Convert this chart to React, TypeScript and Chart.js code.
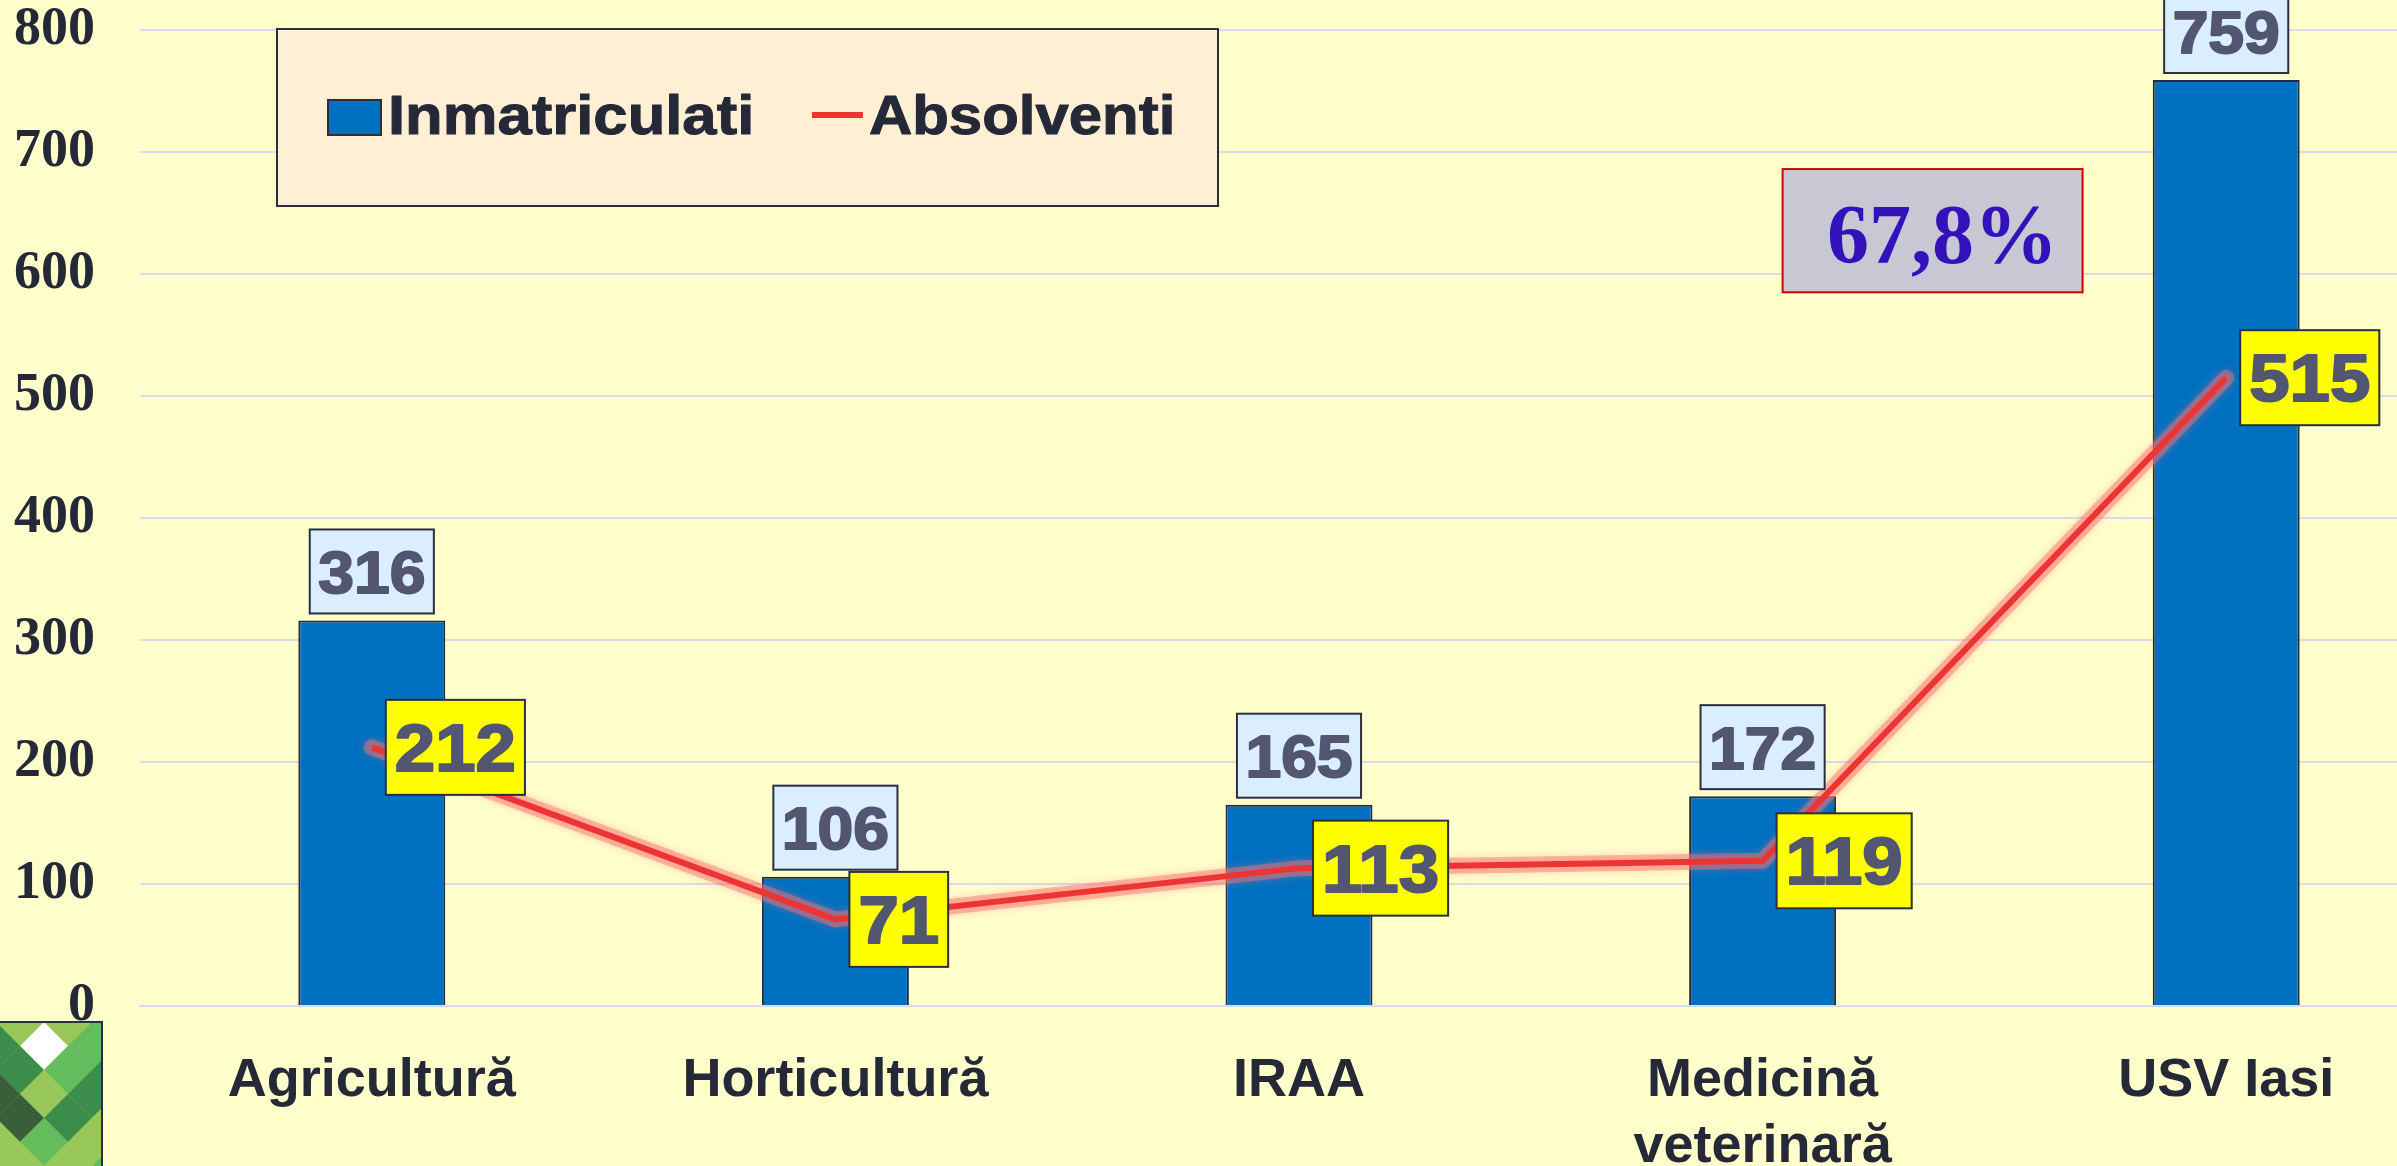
import React, { useEffect, useRef } from "react";
import { Chart, registerables } from "chart.js";

Chart.register(...registerables);

const categories: (string | string[])[] = ["Agricultură", "Horticultură", "IRAA", ["Medicină", "veterinară"], "USV Iasi"];
const inmatriculati = [316, 106, 165, 172, 759];
const absolventi = [212, 71, 113, 119, 515];
const seriesNames = ["Inmatriculati", "Absolventi"];
const yMin = 0;
const yMax = 800;
const yStep = 100;
const percentText = "67,8%";

const BAR_COLOR = "#0070C0";
const LINE_COLOR = "#EE3333";
const DARK = "#252836";
const LABEL_TEXT = "#525670";
const BORDER = "#2B2E3E";
const GRID = "#D9DBE8";

function drawStretchedText(ctx: CanvasRenderingContext2D, text: string, x: number, baseline: number, sx: number, align: "left" | "center", bold = 0) {
  ctx.save();
  ctx.translate(x, baseline);
  ctx.scale(sx, 1);
  ctx.textAlign = align;
  ctx.textBaseline = "alphabetic";
  if (bold > 0) {
    ctx.lineWidth = bold;
    ctx.lineJoin = "round";
    ctx.strokeStyle = ctx.fillStyle as string;
    ctx.strokeText(text, 0, 0);
  }
  ctx.fillText(text, 0, 0);
  ctx.restore();
}

function drawBoxLabel(ctx: CanvasRenderingContext2D, text: string, left: number, top: number, w: number, h: number, fill: string, font: number, sx: number) {
  ctx.save();
  ctx.fillStyle = fill;
  ctx.fillRect(left, top, w, h);
  ctx.strokeStyle = BORDER;
  ctx.lineWidth = 2;
  ctx.strokeRect(left, top, w, h);
  ctx.fillStyle = LABEL_TEXT;
  ctx.font = `bold ${font}px "Liberation Sans", Arial, sans-serif`;
  drawStretchedText(ctx, text, left + w / 2, top + h / 2 + font * 0.358, sx, "center", 2);
  ctx.restore();
}

const glowPlugin = {
  id: "glow",
  beforeDatasetDraw(chart: any, args: any) {
    if (args.index === 1) {
      const ctx: CanvasRenderingContext2D = chart.ctx;
      const pts = chart.getDatasetMeta(1).data;
      ctx.save();
      ctx.strokeStyle = "rgba(255,110,110,0.45)";
      ctx.lineWidth = 16;
      ctx.lineJoin = "round";
      ctx.lineCap = "round";
      ctx.shadowColor = "rgba(255,120,120,0.7)";
      ctx.shadowBlur = 8;
      ctx.beginPath();
      pts.forEach((p: any, i: number) => (i === 0 ? ctx.moveTo(p.x, p.y) : ctx.lineTo(p.x, p.y)));
      ctx.stroke();
      ctx.restore();
    }
  },
};

const labelsPlugin = {
  id: "boxLabels",
  afterDatasetsDraw(chart: any) {
    const ctx: CanvasRenderingContext2D = chart.ctx;
    const barMeta = chart.getDatasetMeta(0);
    barMeta.data.forEach((bar: any, i: number) => {
      const text = String(inmatriculati[i]);
      const font = 60;
      const sx = 1.07;
      ctx.font = `bold ${font}px "Liberation Sans", Arial, sans-serif`;
      const w = ctx.measureText(text).width * sx + 17;
      const h = 84;
      drawBoxLabel(ctx, text, bar.x - w / 2, bar.y - 7 - h, w, h, "#DAEEFF", font, sx);
    });
    const lineMeta = chart.getDatasetMeta(1);
    lineMeta.data.forEach((pt: any, i: number) => {
      const text = String(absolventi[i]);
      const font = 66;
      const sx = 1.1;
      ctx.font = `bold ${font}px "Liberation Sans", Arial, sans-serif`;
      const w = ctx.measureText(text).width * sx + 18;
      const h = 95;
      drawBoxLabel(ctx, text, pt.x + 14, pt.y - h / 2, w, h, "#FFFF00", font, sx);
    });
  },
};

const decorPlugin = {
  id: "decor",
  afterDraw(chart: any) {
    const ctx: CanvasRenderingContext2D = chart.ctx;
    const area = chart.chartArea;
    const xs = chart.scales.x;
    const ys = chart.scales.y;

    // Legend box
    ctx.save();
    const lx = area.left + 137;
    const ly = area.top - 1;
    ctx.fillStyle = "#FFEFD5";
    ctx.fillRect(lx, ly, 941, 177);
    ctx.strokeStyle = BORDER;
    ctx.lineWidth = 2;
    ctx.strokeRect(lx, ly, 941, 177);
    ctx.fillStyle = BAR_COLOR;
    ctx.fillRect(lx + 51, ly + 71, 53, 35);
    ctx.strokeRect(lx + 51, ly + 71, 53, 35);
    ctx.fillStyle = DARK;
    ctx.font = `bold 56px "Liberation Sans", Arial, sans-serif`;
    drawStretchedText(ctx, seriesNames[0], lx + 111, ly + 105, 1.1, "left", 1);
    ctx.strokeStyle = LINE_COLOR;
    ctx.lineWidth = 6;
    ctx.beginPath();
    ctx.moveTo(lx + 535, ly + 86);
    ctx.lineTo(lx + 586, ly + 86);
    ctx.stroke();
    ctx.fillStyle = DARK;
    drawStretchedText(ctx, seriesNames[1], lx + 592, ly + 105, 1.07, "left", 1);
    ctx.restore();

    // Percentage annotation
    ctx.save();
    const bx = xs.getPixelForValue(3) + 20;
    const by = ys.getPixelForValue(686);
    const bh = ys.getPixelForValue(585) - by;
    const bw = 300;
    ctx.fillStyle = "#C8C8D4";
    ctx.fillRect(bx, by, bw, bh);
    ctx.strokeStyle = "#D00000";
    ctx.lineWidth = 2;
    ctx.strokeRect(bx, by, bw, bh);
    ctx.fillStyle = "#3311BB";
    ctx.font = `bold 84px "Liberation Serif", "Times New Roman", serif`;
    ctx.textAlign = "center";
    ctx.textBaseline = "alphabetic";
    ctx.fillText(percentText, bx + 160, by + 94);
    ctx.restore();

    // Logo decoration (bottom-left)
    ctx.save();
    const gx = 0, gy = 1022, gw = 102, gh = 144;
    ctx.beginPath();
    ctx.rect(gx, gy, gw, gh);
    ctx.clip();
    const L = "#98C85A", M = "#64BC5C", D = "#3C8C4C", K = "#3A5E3A", W = "#FFFFFF";
    ctx.fillStyle = L;
    ctx.fillRect(gx, gy, gw, gh);
    const cells: [number, number, string][] = [
      [20, 1022, L], [68, 1022, L], [116, 1022, M],
      [-4, 1046, D], [44, 1046, W], [92, 1046, M],
      [20, 1070, D], [68, 1070, M], [116, 1070, D],
      [-4, 1094, K], [44, 1094, L], [92, 1094, D],
      [20, 1118, K], [68, 1118, D], [116, 1118, L],
      [-4, 1142, L], [44, 1142, M], [92, 1142, L],
      [20, 1166, L], [68, 1166, L], [116, 1166, M],
    ];
    const d = 24;
    cells.forEach(([cx, cy, c]) => {
      ctx.fillStyle = c;
      ctx.beginPath();
      ctx.moveTo(cx, cy - d);
      ctx.lineTo(cx + d, cy);
      ctx.lineTo(cx, cy + d);
      ctx.lineTo(cx - d, cy);
      ctx.closePath();
      ctx.fill();
    });
    ctx.restore();
    ctx.save();
    ctx.strokeStyle = BORDER;
    ctx.lineWidth = 2;
    ctx.beginPath();
    ctx.moveTo(0, 1022);
    ctx.lineTo(102, 1022);
    ctx.lineTo(102, 1166);
    ctx.stroke();
    ctx.restore();
  },
};

export default function App() {
  const ref = useRef<HTMLCanvasElement>(null);
  useEffect(() => {
    const canvas = ref.current;
    if (!canvas) return;
    const chart = new Chart(canvas, {
      data: {
        labels: categories as any,
        datasets: [
          {
            type: "bar",
            label: seriesNames[0],
            data: inmatriculati,
            backgroundColor: BAR_COLOR,
            borderColor: "#262A3A",
            borderWidth: 2,
            categoryPercentage: 1,
            barPercentage: 0.317,
            order: 1,
          } as any,
          {
            type: "line",
            label: seriesNames[1],
            data: absolventi,
            borderColor: LINE_COLOR,
            borderWidth: 6,
            pointRadius: 0,
            tension: 0,
            fill: false,
            order: 0,
          } as any,
        ],
      },
      options: {
        responsive: false,
        animation: false,
        devicePixelRatio: 1,
        layout: { padding: { top: 30, left: 0, right: 0, bottom: 0 } },
        plugins: { legend: { display: false }, tooltip: { enabled: false } },
        scales: {
          x: {
            grid: { display: false, drawTicks: false },
            border: { display: true, color: GRID, width: 2 },
            ticks: {
              color: DARK,
              font: { family: '"Liberation Sans", Arial, sans-serif', weight: "bold", size: 54, lineHeight: 1.22 },
              padding: 42,
              maxRotation: 0,
              autoSkip: false,
            },
            afterFit: (s: any) => {
              s.height = 160;
            },
          },
          y: {
            min: yMin,
            max: yMax,
            ticks: {
              stepSize: yStep,
              color: DARK,
              font: { family: '"Liberation Serif", "Times New Roman", serif', weight: "bold", size: 54, lineHeight: 1 },
              padding: 45,
            },
            grid: { color: GRID, lineWidth: 2, drawTicks: false },
            border: { display: false },
            afterFit: (s: any) => {
              s.width = 140;
              s.paddingTop = 0;
              s.paddingBottom = 0;
            },
          },
        },
      } as any,
      plugins: [glowPlugin, labelsPlugin, decorPlugin],
    });
    return () => chart.destroy();
  }, []);
  return (
    <div style={{ position: "fixed", left: 0, top: 0, width: "100vw", height: "100vh", overflow: "hidden", background: "#FFFFCC" }}>
      <canvas ref={ref} width={2458} height={1166} style={{ display: "block", width: 2458, height: 1166 }} />
    </div>
  );
}
